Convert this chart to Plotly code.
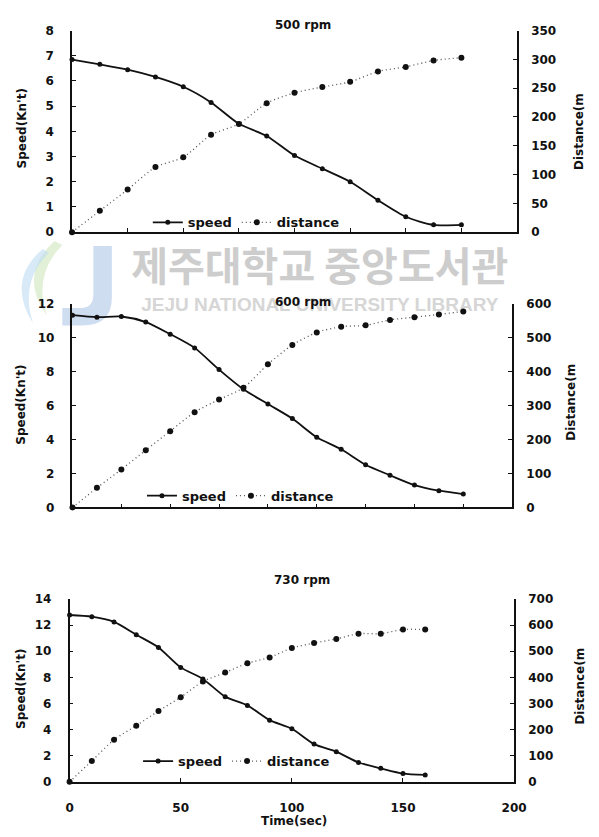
import plotly.graph_objects as go

# ---------------- data ----------------
time_500 = [0, 10, 20, 30, 40, 50, 60, 70, 80, 90, 100, 110, 120, 130, 140]
speed_500 = [6.85, 6.66, 6.45, 6.16, 5.77, 5.15, 4.30, 3.82, 3.04, 2.52, 2.00, 1.27, 0.61, 0.29, 0.29]
dist_500 = [0, 37, 74, 113, 130, 169, 188, 224, 242, 252, 261, 279, 287, 298, 303]

time_600 = [0, 10, 20, 30, 40, 50, 60, 70, 80, 90, 100, 110, 120, 130, 140, 150, 160]
speed_600 = [11.34, 11.22, 11.26, 10.93, 10.22, 9.41, 8.13, 6.97, 6.10, 5.24, 4.14, 3.43, 2.52, 1.90, 1.32, 0.99, 0.79]
dist_600 = [0, 58, 112, 169, 225, 281, 318, 353, 422, 479, 516, 533, 537, 553, 561, 569, 578]

time_730 = [0, 10, 20, 30, 40, 50, 60, 70, 80, 90, 100, 110, 120, 130, 140, 150, 160]
speed_730 = [12.77, 12.64, 12.24, 11.26, 10.29, 8.76, 7.88, 6.52, 5.85, 4.72, 4.06, 2.89, 2.31, 1.48, 1.03, 0.63, 0.53]
dist_730 = [0, 80, 161, 215, 271, 324, 384, 418, 454, 476, 512, 531, 547, 567, 567, 583, 583]

titles = ["500 rpm", "600 rpm", "730 rpm"]
series_names = ["speed", "distance"]
speed_title = "Speed(Kn't)"
dist_title = "Distance(m"
time_title = "Time(sec)"
watermark_kr = "제주대학교 중앙도서관"
watermark_en = "JEJU NATIONAL UNIVERSITY LIBRARY"

# ---------------- layout helpers ----------------
W, H = 599, 837
def px(x):
    return x / W
def py(y):
    return 1 - y / H

FONT = "DejaVu Sans"
black = "#111111"

panels = [
    dict(t=time_500, s=speed_500, d=dist_500, xl=70, xr=528, yt=24, yb=229,
         xrange=[0, 160], xdt=20, srange=[0, 8], sdt=1, drange=[0, 350], ddt=50,
         title_xy=(308, 18), leg=(148, 219), ltitle_y=123, rtitle=(592, 127)),
    dict(t=time_600, s=speed_600, d=dist_600, xl=70.5, xr=523, yt=302, yb=509,
         xrange=[0, 180], xdt=20, srange=[0, 12], sdt=2, drange=[0, 600], ddt=100,
         title_xy=(308, 300), leg=(142, 497), ltitle_y=404, rtitle=(584, 402)),
    dict(t=time_730, s=speed_730, d=dist_730, xl=67.5, xr=525, yt=602, yb=788,
         xrange=[0, 200], xdt=50, srange=[0, 14], sdt=2, drange=[0, 700], ddt=100,
         title_xy=(307, 583), leg=(138, 767), ltitle_y=693, rtitle=(593, 691)),
]

fig = go.Figure()
layout = dict(
    width=W, height=H,
    margin=dict(l=0, r=0, t=0, b=0),
    paper_bgcolor="white", plot_bgcolor="rgba(0,0,0,0)",
    font=dict(family=FONT, size=12, color=black, weight="bold"),
    hovermode=False,
)
annotations = []
shapes = []

axis_common = dict(showgrid=False, zeroline=False, showline=True, linecolor=black,
                   linewidth=1.5, ticks="inside", ticklen=4, tickcolor=black,
                   tickwidth=1.2, tickfont=dict(family=FONT, size=12, color=black, weight="bold"))

for i, p in enumerate(panels):
    n = i + 1
    xname = "x" if n == 1 else f"x{n}"
    ys_name = "y" if n == 1 else f"y{2*n-1}"
    yd_name = f"y{2*n}"
    xkey = "xaxis" if n == 1 else f"xaxis{n}"
    yskey = "yaxis" if n == 1 else f"yaxis{2*n-1}"
    ydkey = f"yaxis{2*n}"
    legkey = "legend" if n == 1 else f"legend{n}"

    layout[xkey] = dict(axis_common, domain=[px(p["xl"]), px(p["xr"])], anchor=ys_name,
                        range=p["xrange"], dtick=p["xdt"], tick0=0,
                        showticklabels=(n == 3), ticklabelstandoff=14)
    layout[yskey] = dict(axis_common, domain=[py(p["yb"]), py(p["yt"])], anchor=xname,
                         range=p["srange"], dtick=p["sdt"], tick0=0, ticklabelstandoff=14)
    layout[ydkey] = dict(axis_common, overlaying=ys_name, side="right", anchor=xname,
                         range=p["drange"], dtick=p["ddt"], tick0=0, ticklabelstandoff=10)

    layout[legkey] = dict(orientation="h", x=px(p["leg"][0]), y=py(p["leg"][1]),
                          xanchor="left", yanchor="middle", bgcolor="rgba(0,0,0,0)",
                          borderwidth=0, itemwidth=30, tracegroupgap=0,
                          font=dict(family=FONT, size=13, color=black, weight="bold"))

    fig.add_trace(go.Scatter(
        x=p["t"], y=p["s"], name=series_names[0], mode="lines+markers",
        xaxis=xname, yaxis=ys_name, legend=legkey, cliponaxis=False,
        line=dict(color=black, width=1.8, shape="spline", smoothing=0.7),
        marker=dict(color=black, size=5, symbol="circle")))
    fig.add_trace(go.Scatter(
        x=p["t"], y=p["d"], name=series_names[1], mode="lines+markers",
        xaxis=xname, yaxis=yd_name, legend=legkey, cliponaxis=False,
        line=dict(color="#555555", width=1.3, dash="1px,3px", shape="spline", smoothing=0.7),
        marker=dict(color=black, size=6, symbol="circle")))

    annotations.append(dict(text=titles[i], x=px(p["title_xy"][0]), y=py(p["title_xy"][1]),
                            xref="paper", yref="paper", showarrow=False,
                            xanchor="center", yanchor="middle",
                            font=dict(family=FONT, size=12, color=black, weight="bold")))
    annotations.append(dict(text=speed_title, x=px(18), y=py(p["ltitle_y"]),
                            xref="paper", yref="paper", showarrow=False, textangle=-90,
                            xanchor="center", yanchor="middle",
                            font=dict(family=FONT, size=12, color=black, weight="bold")))
    annotations.append(dict(text=dist_title, x=px(p["rtitle"][0]), y=py(p["rtitle"][1]),
                            xref="paper", yref="paper", showarrow=False, textangle=-90,
                            xanchor="center", yanchor="middle",
                            font=dict(family=FONT, size=12, color=black, weight="bold")))

annotations.append(dict(text=time_title, x=px(298), y=py(836), xref="paper", yref="paper",
                        showarrow=False, xanchor="center", yanchor="bottom", borderpad=0,
                        font=dict(family=FONT, size=12, color=black, weight="bold")))

# ---------------- watermark (drawn below the data) ----------------
def path(pts_cmds):
    out = []
    for c in pts_cmds:
        if isinstance(c, str):
            out.append(c)
        else:
            out.append(f"{px(c[0]):.5f},{py(c[1]):.5f}")
    return " ".join(out)

shapes.append(dict(type="path", xref="paper", yref="paper", layer="below",
                   path=path(["M", (52, 238), "Q", (14, 272), (44, 314), "Q", (30, 272), (60, 242), "Z"]),
                   fillcolor="rgba(200,228,180,0.55)", line=dict(width=0)))
shapes.append(dict(type="path", xref="paper", yref="paper", layer="below",
                   path=path(["M", (40, 246), "Q", (2, 278), (30, 322), "Q", (16, 280), (46, 250), "Z"]),
                   fillcolor="rgba(190,220,242,0.6)", line=dict(width=0)))
shapes.append(dict(type="path", xref="paper", yref="paper", layer="below",
                   path=path(["M", (92, 243), "L", (111, 243), "L", (111, 296), "Q", (111, 324), (80, 324),
                              "L", (60, 324), "L", (60, 306), "L", (80, 306), "Q", (92, 306), (92, 292), "Z"]),
                   fillcolor="rgba(175,198,232,0.6)", line=dict(width=0)))
shapes.append(dict(type="rect", xref="paper", yref="paper", layer="below",
                   x0=px(120), x1=px(530), y0=py(287), y1=py(247),
                   fillcolor="rgba(0,0,0,0)", line=dict(width=0),
                   label=dict(text=watermark_kr, textposition="middle center",
                              font=dict(family="Noto Sans CJK KR", size=40, color="#cdcdcd"))))
shapes.append(dict(type="rect", xref="paper", yref="paper", layer="below",
                   x0=px(120), x1=px(530), y0=py(309), y1=py(293),
                   fillcolor="rgba(0,0,0,0)", line=dict(width=0),
                   label=dict(text=watermark_en, textposition="middle center",
                              font=dict(family="Liberation Sans", size=19, color="#d6d6d6"))))

layout["annotations"] = annotations
layout["shapes"] = shapes
fig.update_layout(**layout)

fig.write_html("out.html", config={"displayModeBar": False})
